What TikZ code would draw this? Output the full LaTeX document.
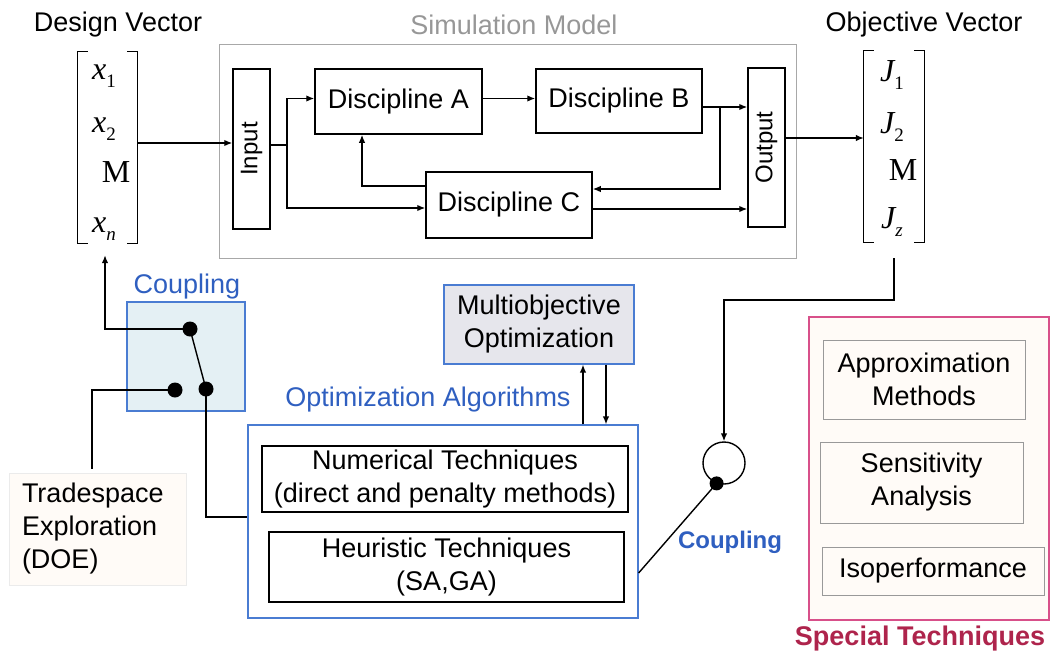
\documentclass[tikz,border=0pt]{standalone}
\usepackage{fontspec}
\setmainfont{Liberation Sans}
\newfontfamily\mathserif{Liberation Serif}
\usetikzlibrary{arrows.meta}

\definecolor{ablue}{HTML}{2F5FC0}
\definecolor{bblue}{HTML}{4A7CD2}
\definecolor{cfill}{HTML}{E4F0F4}
\definecolor{mfill}{HTML}{E6E6EC}
\definecolor{simgray}{HTML}{A8A8A8}
\definecolor{pinkb}{HTML}{D8508A}
\definecolor{crimson}{HTML}{AE244C}

\newcommand{\vx}[1]{{\mathserif\fontsize{32}{32}\selectfont\itshape x}\raisebox{-0.28em}{\mathserif\fontsize{19}{19}\selectfont #1}}
\newcommand{\vnx}{{\mathserif\fontsize{32}{32}\selectfont\itshape x}\raisebox{-0.28em}{\mathserif\fontsize{19}{19}\selectfont\itshape n}}
\newcommand{\vJ}[1]{{\mathserif\fontsize{32}{32}\selectfont\itshape J}\raisebox{-0.28em}{\mathserif\fontsize{19}{19}\selectfont #1}}
\newcommand{\vJz}{{\mathserif\fontsize{32}{32}\selectfont\itshape J}\raisebox{-0.28em}{\mathserif\fontsize{19}{19}\selectfont\itshape z}}
\newcommand{\vM}{{\mathserif\fontsize{32}{32}\selectfont M}}

\begin{document}
\begin{tikzpicture}[x=1pt,y=-1pt,
  every node/.style={font=\fontsize{27}{33}\selectfont, inner sep=0pt, align=center},
  blk/.style={draw, line width=1.5pt},
  vert/.style={draw, line width=1.5pt, minimum width=37pt, minimum height=160pt},
  graybox/.style={draw=gray!80, line width=0.8pt},
  arr/.style={-{Latex[length=8pt,width=6.5pt]}, line width=1.4pt},
  ln/.style={line width=1.4pt},
  dot/.style={circle, fill=black, minimum size=15pt},
  bracket/.style={line width=1.3pt},
]
\useasboundingbox (0,0) rectangle (1051,653);

% --- simulation model frame and its contents
\node[draw=simgray, line width=0.9pt, minimum width=577pt, minimum height=214pt] (sim) at (507.5,151) {};
\node[text=simgray!90!black] (simlbl) at (514,25) {Simulation Model};

\node[vert] (in) at (251.5,149) {};
\node[rotate=90, font=\fontsize{24}{28}\selectfont] (inlbl) at (in) {Input};
\node[vert, minimum height=159pt] (out) at (766.5,147.5) {};
\node[rotate=90, font=\fontsize{24}{28}\selectfont] (outlbl) at (out) {Output};

\node[blk, minimum width=167pt, minimum height=65pt] (dA) at (398.5,101.5) {Discipline A};
\node[blk, minimum width=166pt, minimum height=64pt] (dB) at (619,101) {Discipline B};
\node[blk, minimum width=166pt, minimum height=66pt] (dC) at (509,205) {Discipline C};

% --- design vector
\node (dvlbl) at (118,25) {Design Vector};
\node[minimum width=59pt, minimum height=191pt] (xvec) at (107.5,147.5) {};
\draw[bracket] ([xshift=10pt]xvec.north west) -- (xvec.north west) -- (xvec.south west) -- ([xshift=10pt]xvec.south west);
\draw[bracket] ([xshift=-10pt]xvec.north east) -- (xvec.north east) -- (xvec.south east) -- ([xshift=-10pt]xvec.south east);
\node (x1) at (104,76) {\vx{1}};
\node (x2) at (104,129) {\vx{2}};
\node (xm) at (116,172) {\vM};
\node (xn) at (104,229) {\vnx};

% --- objective vector
\node (ovlbl) at (924,25) {Objective Vector};
\node[minimum width=60pt, minimum height=191pt] (jvec) at (894,146.5) {};
\draw[bracket] ([xshift=10pt]jvec.north west) -- (jvec.north west) -- (jvec.south west) -- ([xshift=10pt]jvec.south west);
\draw[bracket] ([xshift=-10pt]jvec.north east) -- (jvec.north east) -- (jvec.south east) -- ([xshift=-10pt]jvec.south east);
\node (j1) at (892,75) {\vJ{1}};
\node (j2) at (892,127) {\vJ{2}};
\node (jm) at (903,170) {\vM};
\node (jz) at (892,222) {\vJz};

% --- signal flow through the simulation model
\draw[arr] ([yshift=4.5pt]xvec.east) -- ([yshift=4.5pt]xvec.east -| in.west);
\coordinate (split) at (287,145);
\draw[ln] (in.east |- split) -- (split);
\draw[arr] (split) |- ([yshift=3pt]dA.west);
\draw[arr] (split) |- ([yshift=-3pt]dC.west);
\draw[arr] ([yshift=3pt]dA.east) -- ([yshift=3pt]dA.east -| dB.west);
\draw[arr] ([yshift=19pt]dC.west) -| ([xshift=-36.5pt]dA.south);
\draw[arr] ([yshift=-6pt]dB.east) -- ([yshift=-6pt]dB.east -| out.west);
\coordinate (fb) at (720,107);
\draw[arr] (fb) |- ([yshift=16pt]dC.east);
\draw[arr] ([yshift=-4pt]dC.east) -- ([yshift=-4pt]dC.east -| out.west);
\draw[arr] ([yshift=9.5pt]out.east) -- ([yshift=9.5pt]out.east -| jvec.west);

% --- coupling switch on the design side
\node[draw=bblue, fill=cfill, line width=1.2pt, minimum width=118pt, minimum height=109pt] (cbox) at (186,356.5) {};
\node[text=ablue] (clbl) at (187,287) {Coupling};
\node[dot] (d1) at (190,329) {};
\node[dot] (d2) at (175,390) {};
\node[dot] (d3) at (206,389) {};
\draw[ln] (d1.center) -- (d3.center);
\coordinate (xin) at ([xshift=-2.5pt,yshift=-12pt]xvec.south);
\draw[arr] (d1.center) -| (xin);

% --- tradespace exploration
\node[draw=black!8, fill=white!97!orange, line width=0.8pt, minimum width=177pt, minimum height=112pt, text width=151pt, align=left] (ts) at (97.5,529) {Tradespace\\Exploration\\(DOE)};
\coordinate (tsin) at ([xshift=-5.5pt,yshift=4pt]ts.north);
\draw[ln] (d2.center) -| (tsin);

% --- optimization algorithms
\node[draw=bblue, line width=1.2pt, minimum width=390pt, minimum height=193pt] (opt) at (443,521.5) {};
\node[text=ablue] (optlbl) at (428,400) {Optimization Algorithms};
\node[blk, minimum width=366pt, minimum height=66pt] (num) at (445,479) {Numerical Techniques\\(direct and penalty methods)};
\node[blk, minimum width=355pt, minimum height=70pt] (heu) at (446.5,567) {Heuristic Techniques\\(SA,GA)};
\draw[ln] (d3.center) |- ([yshift=4.5pt]opt.west);

\node[draw=bblue, fill=mfill, line width=1.2pt, minimum width=190pt, minimum height=79pt] (mo) at (539,324.5) {Multiobjective\\Optimization};
\coordinate (mup) at ([xshift=44pt]mo.south);
\coordinate (mdn) at ([xshift=67pt]mo.south);
\draw[arr] (mup |- opt.north) -- (mup);
\draw[arr] (mdn) -- (mdn |- opt.north);

% --- coupling on the objective side
\node[draw, circle, line width=1.4pt, minimum size=42pt] (cp) at (724,463) {};
\coordinate (bend) at (724,300);
\draw[arr] ([yshift=-16pt]jvec.south) |- (bend) -- (cp.north);
\node[dot, minimum size=14pt] (cpd) at (cp.250) {};
\draw[ln] (cpd.center) -- ([yshift=-51.5pt]opt.east);
\node[text=ablue, font=\fontsize{24}{28}\selectfont\bfseries] (cplbl) at (730,542) {Coupling};

% --- special techniques
\node[draw=pinkb, fill=white!97!orange, line width=1.3pt, minimum width=240pt, minimum height=303pt] (sp) at (929,468.5) {};
\node[graybox, minimum width=202pt, minimum height=79pt] (apx) at (924,379.5) {Approximation\\Methods};
\node[graybox, minimum width=203pt, minimum height=81pt] (sen) at (921.5,482.5) {Sensitivity\\Analysis};
\node[graybox, minimum width=222pt, minimum height=48pt] (iso) at (933,571) {Isoperformance};
\node[text=crimson, font=\fontsize{27}{33}\selectfont\bfseries] (splbl) at (920,639) {Special Techniques};
\end{tikzpicture}
\end{document}
